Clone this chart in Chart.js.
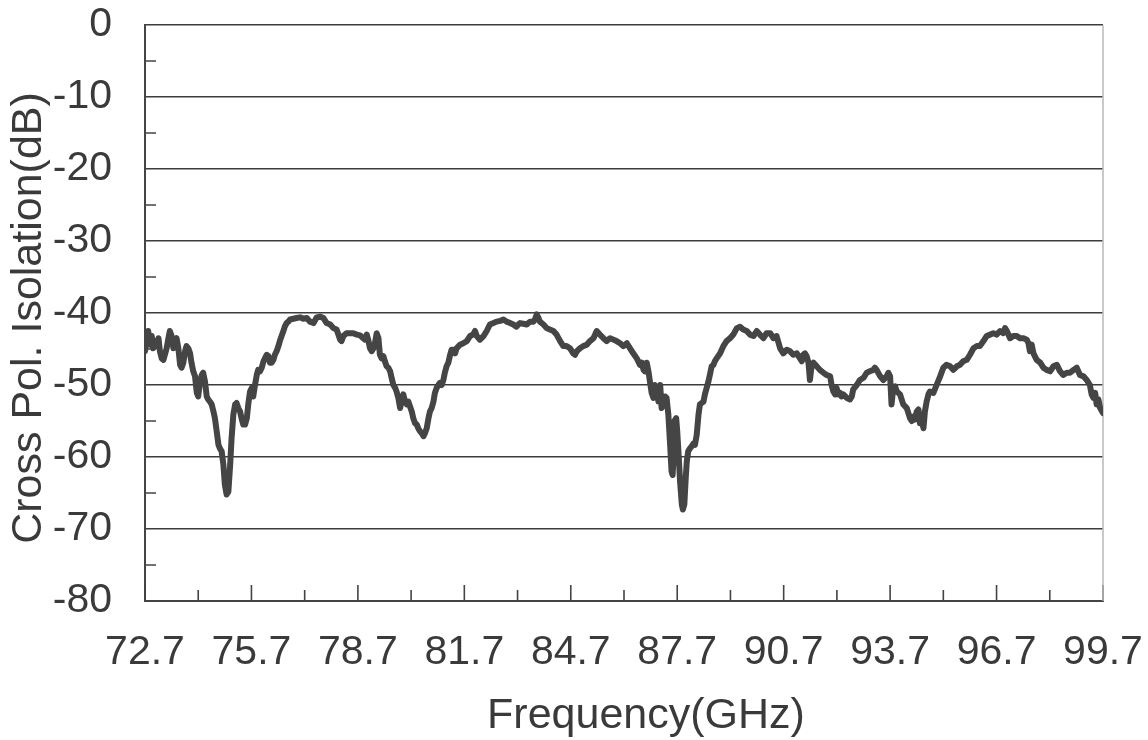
<!DOCTYPE html>
<html>
<head>
<meta charset="utf-8">
<script src="https://cdn.jsdelivr.net/npm/chart.js@4.4.1/dist/chart.umd.min.js"></script>
<style>
  html, body { margin: 0; padding: 0; background: #ffffff; }
  #wrap { width: 1148px; height: 740px; position: relative; }
</style>
</head>
<body>
<div id="wrap"><canvas id="c" width="1148" height="740"></canvas></div>
<script>
// ---- data ----
const freqGHz = [
  72.70,72.75,72.79,72.84,72.89,72.93,72.98,73.03,73.08,73.12,73.17,73.22,73.26,73.31,73.36,73.40,73.45,73.50,73.55,73.59,
  73.64,73.69,73.73,73.78,73.83,73.87,73.92,73.97,74.01,74.06,74.11,74.16,74.20,74.25,74.30,74.34,74.39,74.44,74.48,74.53,
  74.58,74.63,74.67,74.72,74.77,74.81,74.86,74.91,74.95,75.00,75.05,75.10,75.14,75.19,75.24,75.28,75.33,75.38,75.42,75.47,
  75.52,75.57,75.61,75.66,75.71,75.75,75.80,75.85,75.89,75.94,75.99,76.04,76.08,76.13,76.18,76.22,76.27,76.32,76.36,76.41,
  76.46,76.50,76.55,76.60,76.64,76.69,76.74,76.79,76.88,76.97,77.07,
  77.16,77.26,77.35,77.45,77.54,77.63,77.73,77.82,77.92,78.01,78.10,78.15,78.20,78.24,78.29,78.38,78.48,78.57,78.67,78.76,
  78.85,78.90,78.95,79.00,79.04,79.09,79.14,79.18,79.23,79.28,79.32,79.37,79.42,79.46,79.51,79.56,79.61,79.65,79.70,79.75,
  79.79,79.84,79.89,79.93,79.98,80.03,80.08,80.12,80.17,80.22,80.26,80.31,80.36,80.40,80.45,80.50,80.55,80.59,80.64,80.69,
  80.73,80.78,80.83,80.87,80.92,80.97,81.01,81.06,81.11,81.15,81.20,81.25,81.30,81.34,81.39,81.44,81.48,81.58,81.67,
  81.77,81.86,81.95,82.00,82.05,82.14,82.24,82.33,82.42,82.52,82.61,82.71,82.80,82.89,82.99,83.08,83.17,83.22,83.27,83.36,
  83.46,83.55,83.65,83.69,83.74,83.79,83.83,83.93,84.02,84.11,84.21,84.30,84.40,84.49,84.58,84.68,84.77,84.82,84.87,84.96,
  85.05,85.15,85.24,85.34,85.43,85.52,85.62,85.71,85.81,85.90,85.99,86.09,86.18,
  86.28,86.37,86.46,86.56,86.65,86.70,86.75,86.79,86.84,86.89,86.93,86.98,87.03,87.07,87.12,87.17,87.22,87.26,87.31,87.36,
  87.40,87.45,87.50,87.54,87.57,87.59,87.62,87.67,87.70,87.74,87.78,87.83,87.86,87.90,87.94,87.97,88.01,88.06,88.11,88.16,
  88.20,88.25,88.30,88.34,88.39,88.44,88.48,88.53,88.58,88.62,88.67,88.72,88.76,88.81,88.91,89.00,89.09,89.19,89.28,89.38,
  89.47,89.56,89.66,89.75,89.85,89.94,90.03,90.13,90.22,90.32,90.41,90.50,90.60,90.69,
  90.79,90.88,90.97,91.07,91.16,91.21,91.25,91.30,91.35,91.40,91.44,91.49,91.54,91.63,91.72,91.82,91.91,92.01,92.05,92.10,
  92.15,92.19,92.24,92.29,92.33,92.38,92.48,92.57,92.62,92.66,92.76,92.85,92.95,93.04,93.13,93.23,93.27,93.32,93.42,93.51,
  93.60,93.65,93.70,93.74,93.79,93.84,93.89,93.98,94.07,94.17,94.26,94.31,94.36,94.40,94.45,94.50,94.54,94.59,94.64,94.68,
  94.73,94.78,94.82,94.92,95.01,95.11,
  95.20,95.29,95.39,95.48,95.58,95.67,95.76,95.86,95.95,96.05,96.14,96.23,96.33,96.42,96.52,96.61,96.70,96.80,96.89,96.94,
  96.99,97.08,97.17,97.27,97.36,97.46,97.55,97.60,97.64,97.69,97.74,97.83,97.93,98.02,98.11,98.21,98.30,98.40,98.49,98.58,
  98.68,98.77,98.87,98.96,99.05,99.15,99.24,99.33,99.38,99.43,99.48,99.52,99.57,99.62,99.70
];
const isolationDb = [
  -45.3,-43.5,-42.5,-44.4,-43.2,-44.9,-43.9,-44.6,-43.5,-45.3,-46.3,-46.5,-45.8,-44.9,-43.5,-42.5,-43.2,-44.9,-43.9,-43.5,
  -44.9,-47.2,-47.6,-46.9,-45.3,-44.6,-44.9,-45.6,-46.9,-48.1,-48.8,-51.1,-51.6,-49.5,-48.6,-48.3,-49.5,-51.6,-52.0,-52.3,
  -52.7,-53.7,-54.6,-56.4,-58.3,-58.8,-59.2,-61.1,-63.8,-65.2,-64.8,-61.1,-57.4,-54.1,-52.7,-52.5,-53.2,-53.7,-54.6,-55.5,
  -55.5,-54.6,-52.7,-50.9,-50.4,-51.6,-50.0,-48.6,-47.9,-48.1,-47.6,-46.7,-46.3,-45.8,-46.0,-46.9,-46.9,-46.5,-45.8,-45.3,
  -44.6,-43.9,-43.2,-42.5,-41.9,-41.4,-41.2,-40.9,-40.8,-40.7,-40.6,
  -40.8,-40.7,-41.2,-41.4,-40.6,-40.5,-40.7,-41.4,-41.6,-42.1,-42.3,-43.0,-43.7,-43.9,-43.2,-42.8,-42.8,-42.8,-43.0,-43.1,
  -43.5,-43.7,-43.0,-43.9,-44.9,-45.3,-44.9,-44.2,-42.8,-43.5,-45.8,-46.3,-46.0,-46.7,-47.4,-47.6,-48.1,-49.0,-50.0,-50.4,
  -50.9,-51.8,-53.2,-52.3,-51.3,-52.3,-52.7,-52.3,-53.0,-53.7,-54.6,-55.3,-55.5,-56.0,-56.4,-56.7,-57.1,-56.7,-56.0,-54.6,
  -53.7,-53.2,-52.3,-51.1,-50.4,-50.0,-49.7,-50.0,-49.3,-48.3,-47.4,-46.9,-45.8,-45.1,-45.1,-45.6,-44.9,-44.4,-44.2,
  -43.9,-43.2,-43.0,-42.5,-43.2,-43.7,-43.2,-42.5,-41.6,-41.4,-41.2,-41.1,-40.9,-41.2,-41.4,-41.6,-41.9,-41.6,-41.4,-41.5,
  -41.6,-41.2,-41.2,-40.9,-40.2,-40.7,-41.2,-41.6,-42.1,-42.3,-42.5,-43.0,-43.9,-44.6,-44.6,-44.9,-45.6,-45.8,-45.3,-44.9,
  -44.6,-44.4,-43.9,-43.5,-42.5,-43.0,-43.5,-43.9,-43.5,-43.7,-43.9,-44.2,-44.6,
  -44.2,-44.9,-45.6,-46.3,-47.2,-46.9,-47.9,-48.1,-46.9,-48.1,-49.5,-51.1,-51.8,-50.0,-50.9,-52.3,-50.0,-53.2,-52.7,-51.6,
  -51.8,-54.1,-58.3,-62.0,-62.5,-60.6,-55.0,-54.6,-56.4,-59.7,-63.4,-66.6,-67.3,-66.6,-62.9,-60.6,-59.2,-58.8,-58.5,-58.1,
  -58.3,-56.9,-54.1,-52.7,-52.5,-52.3,-51.3,-50.4,-49.5,-48.6,-47.4,-47.2,-46.7,-46.3,-45.6,-44.6,-43.9,-43.5,-43.0,-42.1,
  -41.9,-42.3,-42.5,-43.0,-43.2,-42.5,-43.0,-43.5,-42.8,-42.8,-43.5,-43.2,-44.9,-45.6,
  -45.1,-45.3,-45.8,-45.6,-46.3,-46.7,-45.8,-45.6,-46.0,-46.9,-49.3,-47.2,-46.9,-47.4,-47.9,-48.3,-48.6,-48.8,-50.0,-50.9,
  -51.3,-50.4,-51.3,-51.1,-51.6,-51.3,-51.8,-52.0,-51.6,-50.6,-50.0,-49.3,-49.0,-48.3,-48.1,-47.9,-47.6,-47.9,-48.8,-49.3,
  -48.8,-48.3,-48.8,-52.7,-50.4,-50.2,-50.9,-51.3,-52.7,-53.2,-54.6,-55.0,-54.4,-54.8,-53.7,-53.4,-55.3,-54.8,-56.0,-53.7,
  -52.3,-51.3,-50.9,-51.1,-50.0,-48.8,
  -47.6,-47.2,-47.4,-47.9,-47.4,-47.2,-46.7,-46.5,-45.8,-44.9,-44.6,-44.6,-43.9,-43.2,-43.0,-42.8,-43.0,-42.5,-42.8,-42.1,
  -42.5,-43.5,-43.2,-43.2,-43.5,-43.5,-43.7,-44.2,-45.3,-44.4,-45.6,-46.5,-46.9,-47.6,-47.9,-48.1,-47.4,-47.2,-48.1,-48.6,
  -48.3,-48.3,-47.9,-47.6,-48.6,-48.8,-49.3,-50.0,-51.3,-51.8,-51.1,-52.7,-52.0,-53.2,-53.9
];
const xMajorTicks = [72.7, 75.7, 78.7, 81.7, 84.7, 87.7, 90.7, 93.7, 96.7, 99.7];
const xMinorTicks = [74.2, 77.2, 80.2, 83.2, 86.2, 89.2, 92.2, 95.2, 98.2];
const yMajorTicks = [0, -10, -20, -30, -40, -50, -60, -70, -80];
const yMinorTicks = [-5, -15, -25, -35, -45, -55, -65, -75];
const xTitle = 'Frequency(GHz)';
const yTitle = 'Cross Pol. Isolation(dB)';

const points = freqGHz.map((f, i) => ({ x: f, y: isolationDb[i] }));

const INK = '#3a3a3a';
const FONT = 'Liberation Sans, Arial, sans-serif';

const tickMarks = {
  id: 'tickMarks',
  beforeDatasetsDraw(chart) {
    const { ctx, chartArea: a, scales: { x, y } } = chart;
    ctx.save();
    ctx.strokeStyle = '#444';
    ctx.lineWidth = 1.6;
    ctx.beginPath();
    xMajorTicks.forEach(v => { const px = x.getPixelForValue(v); ctx.moveTo(px, a.bottom); ctx.lineTo(px, a.bottom - 16); });
    xMinorTicks.forEach(v => { const px = x.getPixelForValue(v); ctx.moveTo(px, a.bottom); ctx.lineTo(px, a.bottom - 11); });
    yMinorTicks.forEach(v => { const py = y.getPixelForValue(v); ctx.moveTo(a.left, py); ctx.lineTo(a.left + 11, py); });
    ctx.stroke();
    ctx.strokeStyle = '#b8b8b8';
    ctx.lineWidth = 1.5;
    ctx.beginPath();
    ctx.moveTo(a.right, a.top);
    ctx.lineTo(a.right, a.bottom);
    ctx.stroke();
    ctx.restore();
  }
};

// axis titles, positioned as in the reference (slightly off-centre)
const axisTitles = {
  id: 'axisTitles',
  afterDraw(chart) {
    const { ctx, chartArea: a } = chart;
    ctx.save();
    ctx.fillStyle = INK;
    ctx.font = '43px ' + FONT;
    ctx.textAlign = 'center';
    ctx.textBaseline = 'middle';
    ctx.fillText(xTitle, (a.left + a.right) / 2 + 22, 716);
    ctx.translate(29, (a.top + a.bottom) / 2 + 5);
    ctx.rotate(-Math.PI / 2);
    ctx.fillText(yTitle, 0, 0);
    ctx.restore();
  }
};

new Chart(document.getElementById('c'), {
  type: 'scatter',
  data: {
    datasets: [{
      data: points,
      showLine: true,
      borderColor: '#454545',
      borderWidth: 6,
      pointRadius: 0,
      tension: 0,
      borderJoinStyle: 'round',
      borderCapStyle: 'round'
    }]
  },
  options: {
    responsive: false,
    animation: false,
    devicePixelRatio: 1,
    layout: { padding: { top: 25, right: 45, left: 0, bottom: 0 } },
    plugins: { legend: { display: false }, tooltip: { enabled: false } },
    scales: {
      x: {
        type: 'linear',
        min: 72.7,
        max: 99.7,
        afterBuildTicks: (s) => { s.ticks = xMajorTicks.map(v => ({ value: v })); },
        afterFit: (s) => { s.height = 139; s.paddingLeft = 0; s.paddingRight = 0; },
        grid: { display: false, drawTicks: false },
        border: { display: true, color: '#444', width: 2 },
        ticks: {
          padding: 27,
          color: INK,
          font: { family: FONT, size: 41 },
          maxRotation: 0,
          autoSkip: false,
          callback: (v) => v.toFixed(1)
        },
        title: { display: false, text: xTitle }
      },
      y: {
        min: -80,
        max: 0,
        afterBuildTicks: (s) => { s.ticks = yMajorTicks.map(v => ({ value: v })); },
        afterFit: (s) => { s.width = 145; s.paddingTop = 0; s.paddingBottom = 0; },
        grid: {
          drawTicks: false,
          color: (c) => (c.tick && c.tick.value === -80) ? 'rgba(0,0,0,0)' : '#3c3c3c',
          lineWidth: 1.6
        },
        border: { display: true, color: '#444', width: 2 },
        ticks: {
          padding: 33,
          color: INK,
          font: { family: FONT, size: 41 },
          callback: (v) => String(v)
        },
        title: { display: false, text: yTitle }
      }
    }
  },
  plugins: [tickMarks, axisTitles]
});
</script>
</body>
</html>
